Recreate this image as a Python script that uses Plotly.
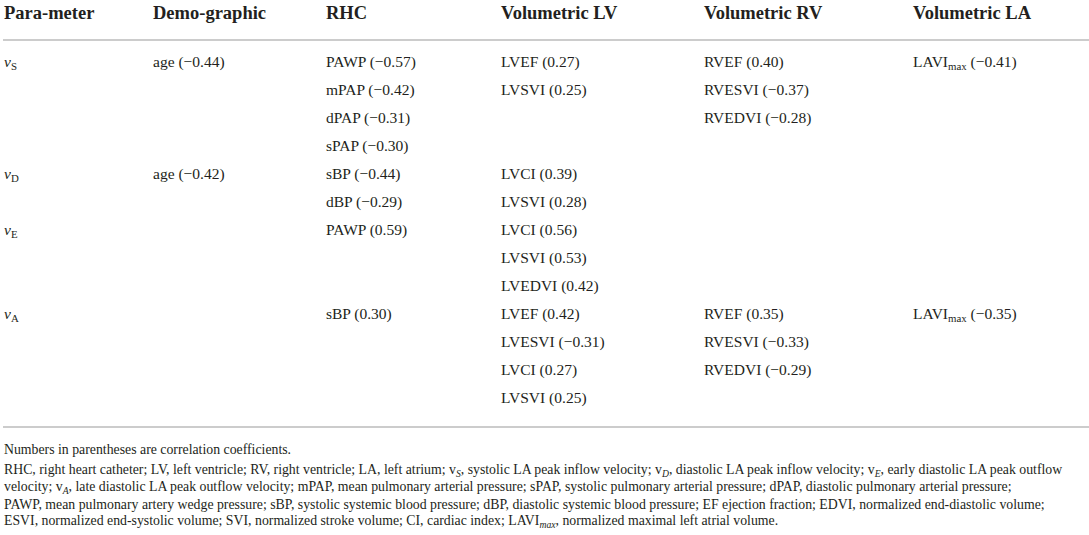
import plotly.graph_objects as go

# table content
headers = ["Para-meter", "Demo-graphic", "RHC", "Volumetric LV", "Volumetric RV", "Volumetric LA"]
params = ["<i>v</i><sub>S</sub>", "<i>v</i><sub>D</sub>", "<i>v</i><sub>E</sub>", "<i>v</i><sub>A</sub>"]
demographic = [["age (−0.44)"], ["age (−0.42)"], [], []]
rhc = [["PAWP (−0.57)", "mPAP (−0.42)", "dPAP (−0.31)", "sPAP (−0.30)"],
       ["sBP (−0.44)", "dBP (−0.29)"],
       ["PAWP (0.59)"],
       ["sBP (0.30)"]]
vol_lv = [["LVEF (0.27)", "LVSVI (0.25)"],
          ["LVCI (0.39)", "LVSVI (0.28)"],
          ["LVCI (0.56)", "LVSVI (0.53)", "LVEDVI (0.42)"],
          ["LVEF (0.42)", "LVESVI (−0.31)", "LVCI (0.27)", "LVSVI (0.25)"]]
vol_rv = [["RVEF (0.40)", "RVESVI (−0.37)", "RVEDVI (−0.28)"],
          [], [],
          ["RVEF (0.35)", "RVESVI (−0.33)", "RVEDVI (−0.29)"]]
vol_la = [["LAVI<sub>max</sub> (−0.41)"], [], [], ["LAVI<sub>max</sub> (−0.35)"]]

footnotes = [
    "Numbers in parentheses are correlation coefficients.",
    "RHC, right heart catheter; LV, left ventricle; RV, right ventricle; LA, left atrium; v<sub><i>S</i></sub>, "
    "systolic LA peak inflow velocity; v<sub><i>D</i></sub>, diastolic LA peak inflow velocity; "
    "v<sub><i>E</i></sub>, early diastolic LA peak outflow",
    "velocity; v<sub><i>A</i></sub>, late diastolic LA peak outflow velocity; mPAP, mean pulmonary arterial "
    "pressure; sPAP, systolic pulmonary arterial pressure; dPAP, diastolic pulmonary arterial pressure;",
    "PAWP, mean pulmonary artery wedge pressure; sBP, systolic systemic blood pressure; dBP, diastolic "
    "systemic blood pressure; EF ejection fraction; EDVI, normalized end-diastolic volume;",
    "ESVI, normalized end-systolic volume; SVI, normalized stroke volume; CI, cardiac index; "
    "LAVI<sub><i>max</i></sub>, normalized maximal left atrial volume.",
]

W, H = 1089, 535
col_x = [3, 152, 325, 500, 703, 912]
header_y = 13
line_top = 62
line_step = 28
rule_color = "#cccccc"
text_color = "#231f20"
serif = "Liberation Serif"

fig = go.Figure()
annotations = []

def add_text(x, y, text, size, bold=False):
    if bold:
        text = "<b>" + text + "</b>"
    annotations.append(dict(
        x=x, y=y, xref="x", yref="y", text=text, showarrow=False,
        xanchor="left", yanchor="middle", borderpad=0,
        font=dict(family=serif, size=size, color=text_color),
    ))

for x, h in zip(col_x, headers):
    add_text(x, header_y, h, 18.5, bold=True)

columns = [demographic, rhc, vol_lv, vol_rv, vol_la]
line = 0
for r, p in enumerate(params):
    n_lines = max(len(c[r]) for c in columns)
    y0 = line_top + line * line_step
    add_text(col_x[0], y0, p, 15.5)
    for x, col in zip(col_x[1:], columns):
        for k, item in enumerate(col[r]):
            add_text(x, y0 + k * line_step, item, 15.5)
    line += n_lines

bottom_rule = line_top + (line - 1) * line_step + 29
fig.add_shape(type="line", x0=3, x1=W, y0=40, y1=40, line=dict(color=rule_color, width=2))
fig.add_shape(type="line", x0=3, x1=W, y0=bottom_rule, y1=bottom_rule, line=dict(color=rule_color, width=2))

foot_y = bottom_rule + 22
for i, f in enumerate(footnotes):
    gap = 0 if i == 0 else 4
    add_text(col_x[0], foot_y + gap + i * 17, f, 13.8)

fig.update_layout(
    width=W, height=H,
    margin=dict(l=0, r=0, t=0, b=0),
    plot_bgcolor="white", paper_bgcolor="white",
    xaxis=dict(range=[0, W], visible=False, fixedrange=True),
    yaxis=dict(range=[H, 0], visible=False, fixedrange=True),
    annotations=annotations,
    showlegend=False,
)

# drop the default page margin so the figure sits at the window corner
fig.write_html("out.html", config={"displayModeBar": False},
               post_script="document.body.style.margin = '0px';")
